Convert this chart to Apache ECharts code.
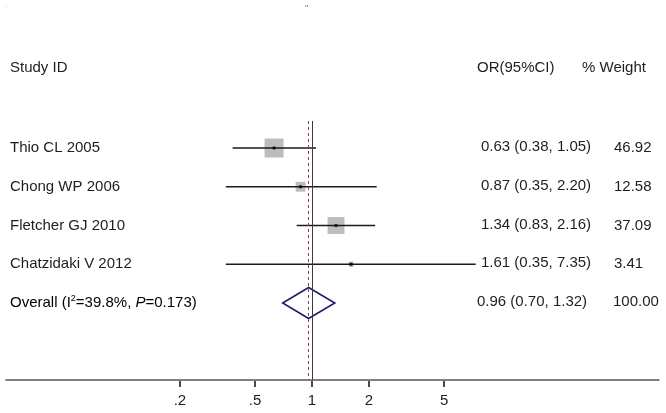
<!DOCTYPE html>
<html>
<head>
<meta charset="utf-8">
<script src="https://cdn.jsdelivr.net/npm/echarts@6/dist/echarts.min.js"></script>
<style>
html,body{margin:0;padding:0;background:#fff;}
#chart{width:666px;height:413px;}
</style>
</head>
<body>
<div id="chart"></div>
<script>
// ---- data ----
const studies = ['Thio CL 2005', 'Chong WP 2006', 'Fletcher GJ 2010', 'Chatzidaki V 2012'];
const orValues = [0.63, 0.87, 1.34, 1.61];
const ciLower = [0.38, 0.35, 0.83, 0.35];
const ciUpper = [1.05, 2.20, 2.16, 7.35];
const weights = [46.92, 12.58, 37.09, 3.41];
const overallValues = [0.96, 0.70, 1.32]; // OR, lower, upper
const overallWeight = 100.00;
const heterogeneity = ['39.8%', '0.173']; // I2, P
const tickValues = [0.2, 0.5, 1, 2, 5];
const tickLabels = ['.2', '.5', '1', '2', '5'];
const headers = ['Study ID', 'OR(95%CI)', '% Weight'];

// ---- chart ----
const FONT = '"Liberation Sans", Arial, sans-serif';
const TXT = '#1e1e1e';
const lg = v => Math.log10(v);
const fmt = v => v.toFixed(2);
const tickPos = tickValues.map(lg);
const overallRow = studies.length;
const Y_MIN = -0.697, Y_MAX = 5.987;

const chart = echarts.init(document.getElementById('chart'), null, {renderer: 'canvas'});

const rowData = studies.map((s, i) => [lg(orValues[i]), i]);
const boxSize = 19 / Math.sqrt(Math.max.apply(null, weights));

chart.setOption({
  animation: false,
  backgroundColor: '#fff',
  grid: {left: 6, right: 7, top: 121, bottom: 33, containLabel: false},
  xAxis: {
    type: 'value',
    min: -1.619,
    max: 1.836,
    position: 'bottom',
    splitLine: {show: false},
    axisLine: {show: true, onZero: false, lineStyle: {color: '#555', width: 1.5}},
    axisTick: {show: false},
    axisLabel: {
      show: true, margin: 13, customValues: tickPos,
      color: TXT, fontSize: 15, fontFamily: FONT,
      formatter: function (v) {
        for (let k = 0; k < tickPos.length; k++) {
          if (Math.abs(tickPos[k] - v) < 1e-6) return tickLabels[k];
        }
        return '';
      }
    }
  },
  yAxis: {
    type: 'value', inverse: true, min: Y_MIN, max: Y_MAX, show: false
  },
  graphic: [
    {type: 'text', left: 10, top: 60, style: {text: headers[0], font: '15px ' + FONT, fill: TXT}},
    {type: 'text', left: 477, top: 60, style: {text: headers[1], font: '15px ' + FONT, fill: TXT}},
    {type: 'text', left: 582, top: 60, style: {text: headers[2], font: '15px ' + FONT, fill: TXT}},
    {type: 'text', left: 5, top: 1, style: {text: '.', font: '8px ' + FONT, fill: '#aaa'}},
    {type: 'text', left: 305, top: 4, style: {text: '\'\'', font: '9px ' + FONT, fill: '#777'}}
  ],
  series: [
    // CI lines + texts
    {
      type: 'custom',
      data: rowData,
      z: 3,
      clip: false,
      renderItem: function (params, api) {
        const i = params.dataIndex;
        const p1 = api.coord([lg(ciLower[i]), i]);
        const p2 = api.coord([lg(ciUpper[i]), i]);
        return {
          type: 'group',
          children: [
            {type: 'line', shape: {x1: p1[0], y1: p1[1], x2: p2[0], y2: p2[1]},
             style: {stroke: '#1a1a1a', lineWidth: 1.5}},
            {type: 'text', x: 10, y: p1[1], style: {text: studies[i], font: '15px ' + FONT, fill: TXT, verticalAlign: 'middle', align: 'left'}},
            {type: 'text', x: 481, y: p1[1] - 1, style: {text: fmt(orValues[i]) + ' (' + fmt(ciLower[i]) + ', ' + fmt(ciUpper[i]) + ')', font: '15px ' + FONT, fill: TXT, verticalAlign: 'middle', align: 'left'}},
            {type: 'text', x: 614, y: p1[1], style: {text: fmt(weights[i]), font: '15px ' + FONT, fill: TXT, verticalAlign: 'middle', align: 'left'}}
          ]
        };
      }
    },
    // weight boxes
    {
      type: 'scatter',
      symbol: 'rect',
      z: 2,
      data: rowData.map((d, i) => ({value: d, symbolSize: boxSize * Math.sqrt(weights[i])})),
      itemStyle: {color: '#bdbdbd', opacity: 1}
    },
    // point estimate dots
    {
      type: 'scatter',
      symbol: 'circle',
      symbolSize: 3.5,
      z: 4,
      data: rowData,
      itemStyle: {color: '#000'}
    },
    // overall diamond + text
    {
      type: 'custom',
      data: [[lg(overallValues[0]), overallRow]],
      z: 3,
      clip: false,
      renderItem: function (params, api) {
        const c = api.coord([lg(overallValues[0]), overallRow]);
        const l = api.coord([lg(overallValues[1]), overallRow]);
        const r = api.coord([lg(overallValues[2]), overallRow]);
        const h = 15.5;
        return {
          type: 'group',
          children: [
            {type: 'polygon', shape: {points: [[l[0], c[1]], [c[0], c[1] - h], [r[0], c[1]], [c[0], c[1] + h]]},
             style: {fill: 'none', stroke: '#1c1c70', lineWidth: 1.6}},
            {type: 'text', x: 10, y: c[1], style: {
              text: '{a|Overall (I}{s|2}{a|=' + heterogeneity[0] + ', }{i|P}{a|=' + heterogeneity[1] + ')}',
              verticalAlign: 'middle', align: 'left',
              rich: {
                a: {fontSize: 15, fontFamily: FONT, color: TXT, lineHeight: 18},
                i: {fontSize: 15, fontFamily: FONT, fontStyle: 'italic', color: TXT, lineHeight: 18},
                s: {fontSize: 9, fontFamily: FONT, color: TXT, verticalAlign: 'top', lineHeight: 18, padding: [0, 0, 6, 0]}
              }
            }},
            {type: 'text', x: 477, y: c[1] - 1, style: {text: fmt(overallValues[0]) + ' (' + fmt(overallValues[1]) + ', ' + fmt(overallValues[2]) + ')', font: '15px ' + FONT, fill: TXT, verticalAlign: 'middle', align: 'left'}},
            {type: 'text', x: 613, y: c[1] - 1, style: {text: fmt(overallWeight), font: '15px ' + FONT, fill: TXT, verticalAlign: 'middle', align: 'left'}}
          ]
        };
      }
    },
    // x-axis tick marks at the custom tick values
    {
      type: 'custom',
      data: tickPos.map(v => [v, Y_MAX]),
      z: 10,
      clip: false,
      renderItem: function (params, api) {
        const t = api.coord([tickPos[params.dataIndex], Y_MAX]);
        return {type: 'rect', shape: {x: Math.round(t[0]) - 1, y: Math.round(t[1]) + 1, width: 2, height: 6},
                style: {fill: '#4a4a4a'}};
      }
    },
    // reference lines
    {
      type: 'line', data: [], silent: true,
      markLine: {
        silent: true, symbol: 'none', label: {show: false},
        data: [
          {xAxis: 0, lineStyle: {color: '#3a3a3a', width: 1, type: 'solid'}},
          {xAxis: lg(overallValues[0]), lineStyle: {color: '#9a3a4a', width: 1, type: [3, 3]}}
        ]
      }
    }
  ]
});
</script>
</body>
</html>
